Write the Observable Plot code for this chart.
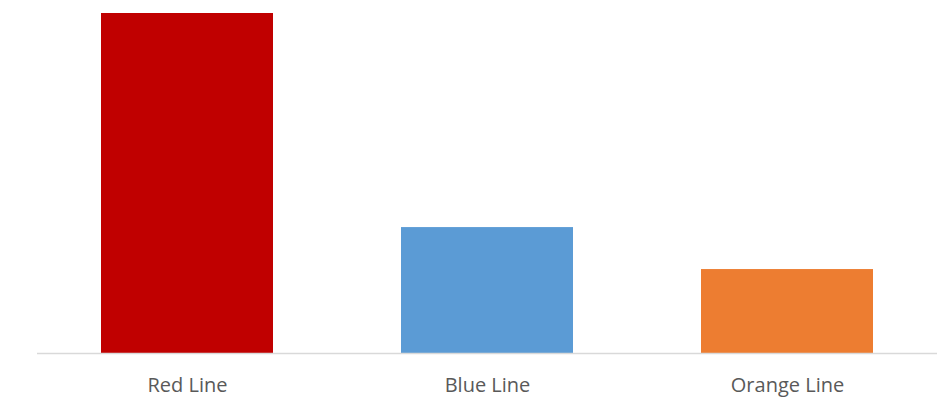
<!DOCTYPE html>
<html>
<head>
<meta charset="utf-8">
<script src="https://cdn.jsdelivr.net/npm/d3@7"></script>
<script src="https://cdn.jsdelivr.net/npm/@observablehq/plot@0.6"></script>
<style>
  html, body { margin: 0; padding: 0; background: #fff; }
  #chart svg { display: block; }
</style>
</head>
<body>
<div id="chart"></div>
<script>
// Categories, values and fill colours for each bar
const categories = ["Red Line", "Blue Line", "Orange Line"];
const values = [8.1, 3.0, 2.0];
const colors = ["#C00000", "#5B9BD5", "#ED7D31"];

const data = categories.map((name, i) => ({ name, value: values[i], color: colors[i] }));

const chart = Plot.plot({
  width: 952,
  height: 412,
  marginTop: 13,
  marginBottom: 59,
  marginLeft: 37,
  marginRight: 15,
  style: { fontFamily: "'Open Sans', sans-serif", background: "#fff" },
  x: { domain: categories, paddingInner: 0.4267, paddingOuter: 0.2133, label: null },
  y: { domain: [0, 8.1], axis: null },
  marks: [
    Plot.barY(data, { x: "name", y: "value", fill: "color" }),
    Plot.ruleY([0], { stroke: "#D9D9D9", strokeWidth: 1.5 }),
    Plot.axisX({ tickSize: 0, tickPadding: 24, fontSize: 20, color: "#595959", label: null })
  ]
});

document.getElementById("chart").appendChild(chart);
</script>
</body>
</html>
